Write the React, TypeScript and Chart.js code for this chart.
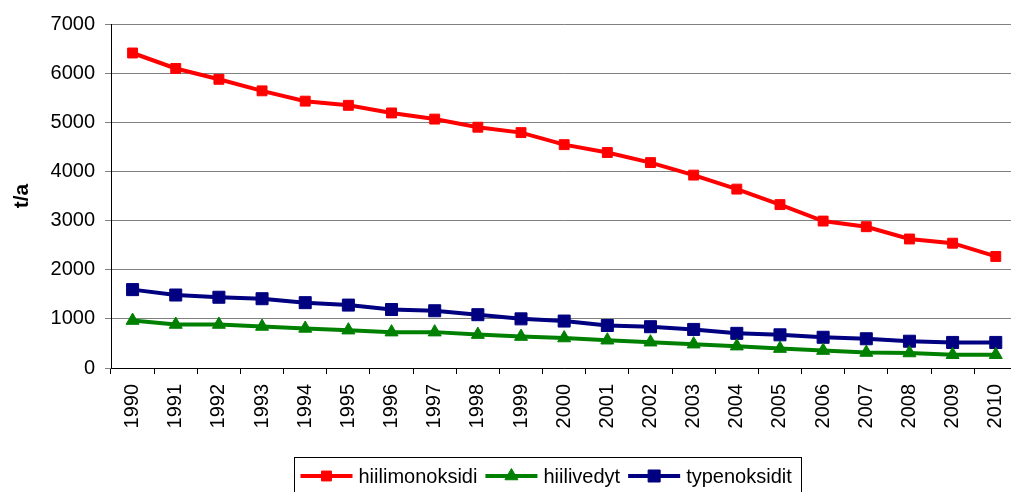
import React, { useEffect, useRef } from 'react';
import { Chart, registerables } from 'chart.js';

Chart.register(...registerables);

const years = ['1990', '1991', '1992', '1993', '1994', '1995', '1996', '1997', '1998', '1999', '2000', '2001', '2002', '2003', '2004', '2005', '2006', '2007', '2008', '2009', '2010'];
const hiilimonoksidi = [6410, 6095, 5875, 5640, 5430, 5345, 5190, 5065, 4900, 4790, 4545, 4385, 4180, 3925, 3640, 3325, 2990, 2875, 2625, 2540, 2270];
const hiilivedyt = [965, 885, 885, 845, 805, 770, 730, 730, 680, 640, 610, 565, 525, 485, 445, 395, 355, 315, 305, 270, 270];
const typenoksidit = [1595, 1485, 1440, 1410, 1330, 1280, 1190, 1165, 1085, 1000, 955, 865, 840, 785, 705, 675, 625, 595, 545, 520, 520];
const seriesNames = ['hiilimonoksidi', 'hiilivedyt', 'typenoksidit'];
const yMin = 0;
const yMax = 7000;
const yStep = 1000;
const yTitle = 't/a';

const FONT = '"Liberation Sans", Arial, sans-serif';

function drawMarker(ctx: CanvasRenderingContext2D, style: string, x: number, y: number, r: number, color: string) {
  ctx.fillStyle = color;
  ctx.strokeStyle = color;
  ctx.lineWidth = 1;
  ctx.beginPath();
  if (style === 'triangle') {
    let rad = 0;
    ctx.moveTo(x + Math.sin(rad) * r, y - Math.cos(rad) * r);
    rad += (2 * Math.PI) / 3;
    ctx.lineTo(x + Math.sin(rad) * r, y - Math.cos(rad) * r);
    rad += (2 * Math.PI) / 3;
    ctx.lineTo(x + Math.sin(rad) * r, y - Math.cos(rad) * r);
    ctx.closePath();
  } else {
    const s = r * Math.SQRT1_2;
    ctx.rect(x - s, y - s, 2 * s, 2 * s);
  }
  ctx.fill();
  ctx.stroke();
}

const boxLegend = {
  id: 'boxLegend',
  afterDraw(chart: any) {
    const ctx: CanvasRenderingContext2D = chart.ctx;
    ctx.save();
    ctx.font = `20px ${FONT}`;
    const sampleW = 52;
    const gapText = 6;
    const gapItem = 8;
    const padL = 6;
    const padR = 10;
    const items = chart.data.datasets.map((ds: any) => ({ ds, w: ctx.measureText(ds.label).width }));
    const contentW = items.reduce((s: number, it: any) => s + sampleW + gapText + it.w, 0) + gapItem * (items.length - 1);
    const boxW = Math.round(contentW + padL + padR);
    const centerX = 547;
    const boxL = Math.round(centerX - boxW / 2) + 0.5;
    const boxT = 457.5;
    ctx.strokeStyle = '#000';
    ctx.lineWidth = 1;
    ctx.strokeRect(boxL, boxT, boxW, 40);
    let x = boxL + padL;
    const cy = 476;
    items.forEach(({ ds, w }: any) => {
      ctx.strokeStyle = ds.borderColor;
      ctx.lineWidth = 4;
      ctx.beginPath();
      ctx.moveTo(x, cy);
      ctx.lineTo(x + sampleW, cy);
      ctx.stroke();
      drawMarker(ctx, ds.pointStyle, x + sampleW / 2, cy, ds.pointRadius, ds.borderColor);
      x += sampleW + gapText;
      ctx.fillStyle = '#000';
      ctx.textBaseline = 'middle';
      ctx.textAlign = 'left';
      ctx.fillText(ds.label, x, cy + 1);
      x += w + gapItem;
    });
    ctx.restore();
  },
};

export default function App() {
  const ref = useRef<HTMLCanvasElement | null>(null);
  useEffect(() => {
    if (!ref.current) return;
    const chart = new Chart(ref.current, {
      type: 'line',
      data: {
        labels: years,
        datasets: [
          {
            label: seriesNames[0],
            data: hiilimonoksidi,
            borderColor: '#FF0000',
            backgroundColor: '#FF0000',
            borderWidth: 4,
            pointStyle: 'rect',
            pointRadius: 7,
            pointBorderWidth: 1,
            tension: 0,
          },
          {
            label: seriesNames[1],
            data: hiilivedyt,
            borderColor: '#008000',
            backgroundColor: '#008000',
            borderWidth: 4,
            pointStyle: 'triangle',
            pointRadius: 7.5,
            pointBorderWidth: 1,
            tension: 0,
          },
          {
            label: seriesNames[2],
            data: typenoksidit,
            borderColor: '#000080',
            backgroundColor: '#000080',
            borderWidth: 4,
            pointStyle: 'rect',
            pointRadius: 8.5,
            pointBorderWidth: 1,
            tension: 0,
          },
        ],
      },
      options: {
        responsive: false,
        animation: false,
        devicePixelRatio: 1,
        layout: { padding: { top: 24, right: 8, bottom: 0, left: 0 } },
        plugins: { legend: { display: false }, tooltip: { enabled: false } },
        scales: {
          x: {
            type: 'category',
            offset: true,
            grid: { offset: true, drawOnChartArea: false, drawTicks: true, tickLength: 6, color: '#000' },
            border: { color: '#000', width: 1 },
            ticks: {
              minRotation: 90,
              maxRotation: 90,
              autoSkip: false,
              padding: 10,
              color: '#000',
              font: { family: FONT, size: 20 },
            },
            afterFit: (s: any) => {
              s.height = 124;
            },
          },
          y: {
            min: yMin,
            max: yMax,
            ticks: {
              stepSize: yStep,
              padding: 10,
              color: '#000',
              font: { family: FONT, size: 20 },
              callback: (v: any) => String(v),
            },
            grid: { color: '#808080', tickLength: 6, drawTicks: true },
            border: { color: '#000', width: 1 },
            title: {
              display: true,
              text: yTitle,
              color: '#000',
              font: { family: FONT, size: 21, weight: 'bold' },
              padding: { top: 10, bottom: 0 },
            },
            afterFit: (s: any) => {
              s.width = 111;
            },
          },
        },
      },
      plugins: [boxLegend],
    });
    return () => chart.destroy();
  }, []);
  return (
    <div style={{ position: 'fixed', left: 0, top: 0, width: 1011, height: 492, overflow: 'hidden', background: '#fff' }}>
      <canvas ref={ref} width={1030} height={492} style={{ display: 'block', width: 1030, height: 492 }} />
    </div>
  );
}
